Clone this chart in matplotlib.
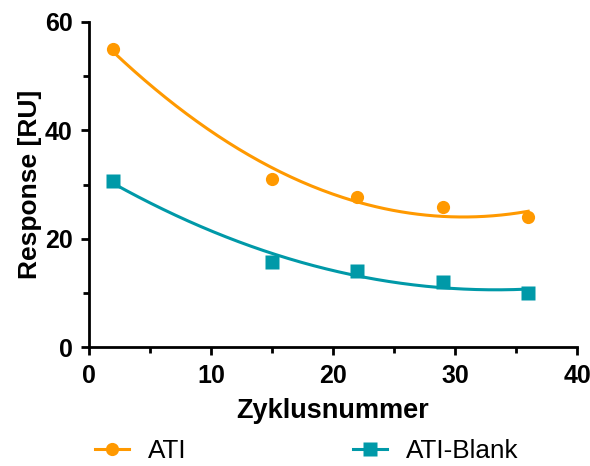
import numpy as np
import matplotlib
matplotlib.use('Agg')
import matplotlib.pyplot as plt
from matplotlib.ticker import MultipleLocator

plt.rcParams['font.family'] = ['Liberation Sans', 'DejaVu Sans']

cycles = [2, 15, 22, 29, 36]
ati = [55.0, 31.0, 27.7, 25.8, 24.0]
ati_blank = [30.6, 15.7, 14.0, 12.0, 10.0]

orange = '#FF9900'
teal = '#0099A8'

fig = plt.figure(figsize=(5.9, 4.66), dpi=100)
ax = fig.add_axes([0.151, 0.255, 0.827, 0.698])

xs = np.linspace(min(cycles), max(cycles), 200)
for y, col, mk, ms, lab in [(ati, orange, 'o', 9.5, 'ATI'),
                            (ati_blank, teal, 's', 10, 'ATI-Blank')]:
    # quadratic trend line through the measured points
    coef = np.polyfit(cycles, y, 2)
    ax.plot(xs, np.polyval(coef, xs), color=col, lw=2.2)
    ax.plot(cycles, y, mk, color=col, ms=ms, mec='none')
    ax.plot([], [], color=col, lw=2.2, marker=mk, ms=ms, mec='none', label=lab)

ax.set_xlim(0, 40)
ax.set_ylim(0, 60)
ax.xaxis.set_major_locator(MultipleLocator(10))
ax.xaxis.set_minor_locator(MultipleLocator(5))
ax.yaxis.set_major_locator(MultipleLocator(20))
ax.yaxis.set_minor_locator(MultipleLocator(10))
for s in ['top', 'right']:
    ax.spines[s].set_visible(False)
for s in ['left', 'bottom']:
    ax.spines[s].set_linewidth(2)
ax.tick_params(which='major', direction='out', length=6, width=2,
               labelsize=18, pad=6)
ax.tick_params(which='minor', direction='out', length=4, width=2)
for t in ax.get_xticklabels() + ax.get_yticklabels():
    t.set_fontweight('bold')

ax.set_xlabel('Zyklusnummer', fontsize=19.5, fontweight='bold', labelpad=7)
ax.set_ylabel('Response [RU]', fontsize=19, fontweight='bold', labelpad=2)

fig.legend(loc='lower center', bbox_to_anchor=(0.52, -0.045), ncol=2,
           frameon=False, fontsize=18.8, handlelength=1.3,
           handletextpad=0.7, columnspacing=6.4)

fig.savefig('out.png', dpi=100)
